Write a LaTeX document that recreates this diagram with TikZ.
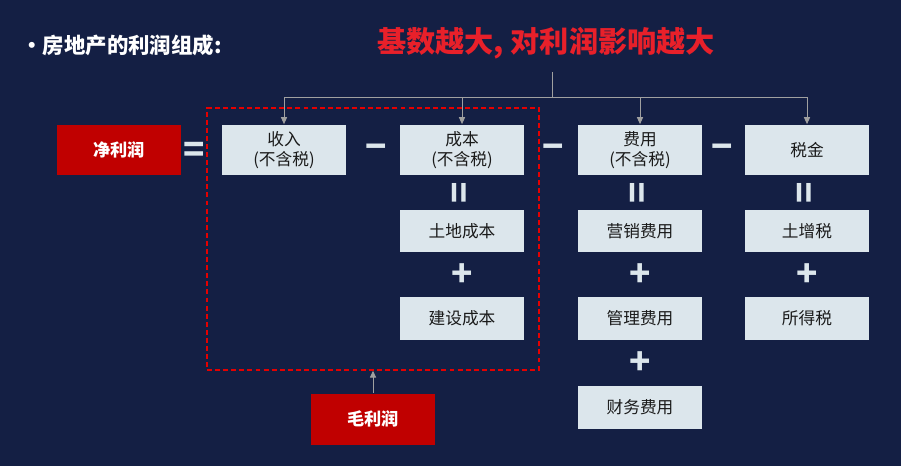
\documentclass[tikz,border=0pt]{standalone}
\usepackage{fontspec}
\setmainfont{Noto Sans CJK SC}
\usetikzlibrary{arrows.meta,positioning,calc}
\definecolor{bg}{RGB}{20,31,68}
\definecolor{boxc}{RGB}{220,230,236}
\definecolor{redc}{RGB}{192,0,0}
\definecolor{headc}{RGB}{232,32,42}
\definecolor{linec}{RGB}{160,160,160}
\definecolor{txt}{RGB}{26,26,26}
\tikzset{
  item/.style={rectangle,fill=boxc,text=txt,minimum width=2.48cm,minimum height=1.02cm,
    align=center,inner sep=0pt,font=\fontsize{9.5}{11.5}\selectfont},
  subitem/.style={item,minimum height=0.86cm},
  keybox/.style={rectangle,fill=redc,text=white,minimum width=2.48cm,minimum height=1.02cm,
    inner sep=0pt,font=\bfseries\fontsize{9.8}{11}\selectfont},
  op/.style={text=boxc,inner sep=0pt,font=\bfseries\fontsize{20}{20}\selectfont},
  feed/.style={-{Triangle[length=4pt,width=3.5pt]},draw=linec,line width=0.55pt},
  grossarea/.style={rectangle,draw=red!90!black,line width=0.8pt,dash pattern=on 2.8pt off 1.8pt,
    minimum width=6.64cm,minimum height=5.24cm,inner sep=0pt},
}

\begin{document}
\begin{tikzpicture}[x=0.02cm,y=-0.02cm]
% background
\fill[bg] (0,0) rectangle (901,466);
\useasboundingbox (0,0) rectangle (901,466);

% Titles
\node[anchor=west,inner sep=0pt,text=white,font=\bfseries\fontsize{12.2}{14}\selectfont] (intro) at (21,45) {•房地产的利润组成:};
\node[text=headc,font=\bfseries\fontsize{16.6}{18}\selectfont] (head) at (546,43) {基数越大, 对利润影响越大};

% --- top row ---
\node[keybox] (net) at (119,150) {净利润};
\node[op] (eq) at (194,152) {=};
\node[item] (inc) at (284,150) {收入\\(不含税)};
\node[op] (m1) at (376,152) {−};
\node[item] (cost) at (462,150) {成本\\(不含税)};
\node[op] (m2) at (553,152) {−};
\node[item] (exp) at (640,150) {费用\\(不含税)};
\node[op] (m3) at (722,152) {−};
\node[item] (tax) at (807,150) {税金};

% --- cost column ---
\node[op,rotate=90] (v1) at (462,193) {=};
\node[subitem] (land) at (462,231) {土地成本};
\node[op] (p1) at (462,275) {+};
\node[subitem] (build) at (462,318) {建设成本};

% --- expense column ---
\node[op,rotate=90] (v2) at (640,193) {=};
\node[subitem] (sales) at (640,231) {营销费用};
\node[op] (p2) at (640,275) {+};
\node[subitem] (admin) at (640,318) {管理费用};
\node[op] (p3) at (640,363) {+};
\node[subitem] (fin) at (640,407) {财务费用};

% --- tax column ---
\node[op,rotate=90] (v3) at (807,193) {=};
\node[subitem] (ltax) at (807,231) {土增税};
\node[op] (p4) at (807,275) {+};
\node[subitem] (itax) at (807,318) {所得税};

% gross margin area
\node[grossarea] (area) at (373,239) {};
\node[keybox] (gross) at (373,419) {毛利润};
\draw[feed] (gross) -- (area.south);

% bracket from the headline
\coordinate (stem) at (552,72);
\coordinate (hub) at (552,97);
\draw[linec,line width=0.55pt] (stem) -- (hub);
\draw[linec,line width=0.55pt] (inc.north |- hub) -- (tax.north |- hub);
\foreach \n in {inc,cost,exp,tax}
  \draw[feed] (\n.north |- hub) -- (\n.north);
\end{tikzpicture}
\end{document}
